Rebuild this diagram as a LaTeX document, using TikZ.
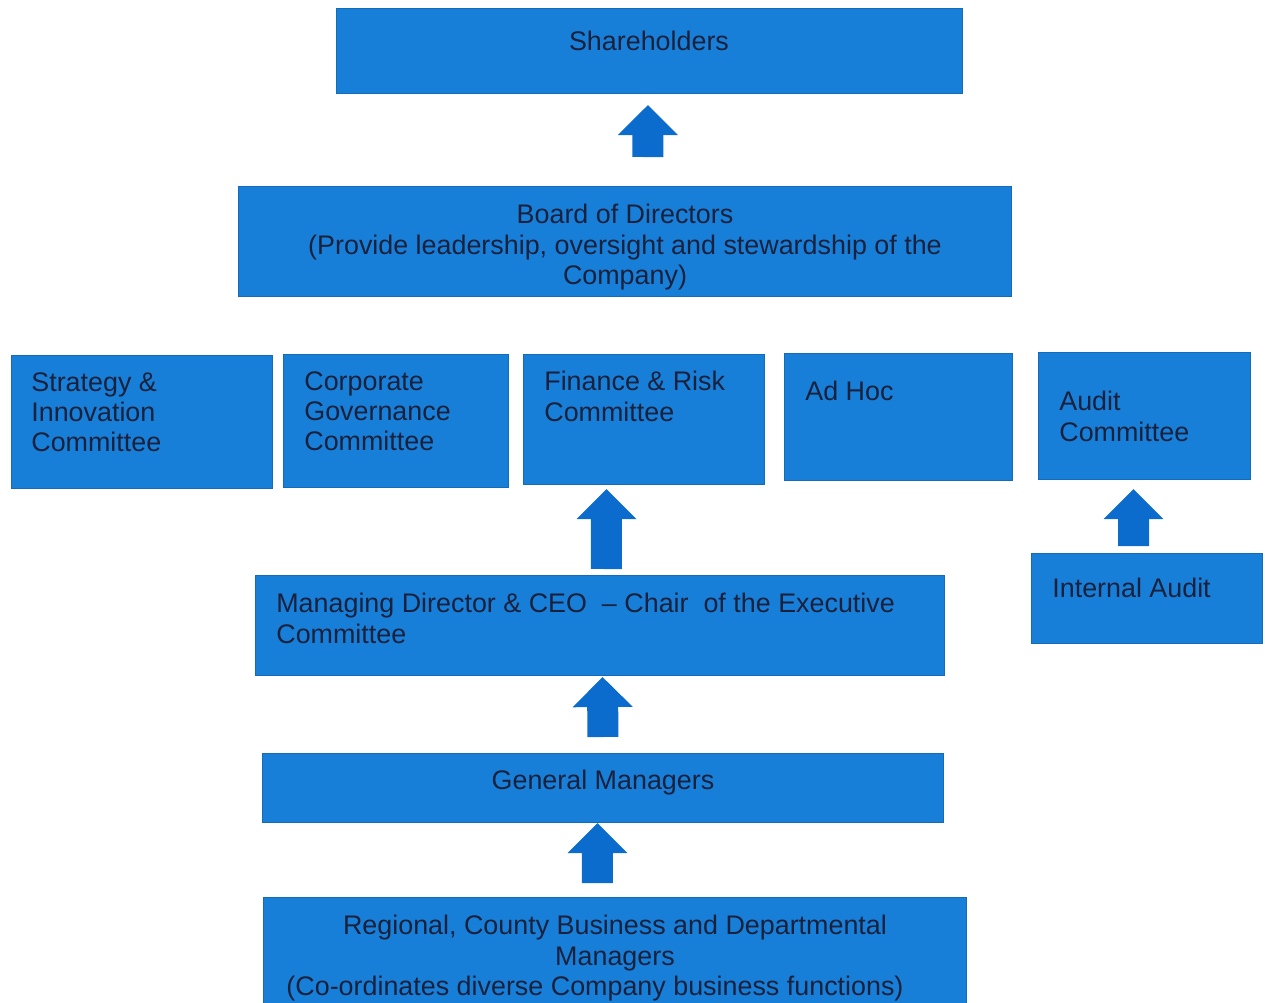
\documentclass[tikz,border=0pt]{standalone}
\usepackage{fontspec}
\setmainfont{Liberation Sans}
\usetikzlibrary{arrows.meta}

\definecolor{boxblue}{RGB}{24,127,217}
\definecolor{arrowblue}{RGB}{12,108,206}
\definecolor{inktext}{RGB}{26,33,60}

\tikzset{
  orgbox/.style={draw=boxblue!85!black, line width=0.6pt, fill=boxblue, anchor=north west, inner sep=0pt},
  orgtext/.style={text=inktext, inner sep=0pt, font=\fontsize{15.3}{17.3}\selectfont, align=left, anchor=north west},
  midtext/.style={orgtext, align=center, anchor=north},
  uparrow/.style={arrowblue, line width=0.62cm, -{Triangle[length=0.6cm, width=1.2cm, line width=0pt]}}
}

\begin{document}
\begin{tikzpicture}[x=0.02cm, y=-0.02cm]
	\useasboundingbox (0,0) rectangle (1265,1003);

	% boxes
	\node[orgbox, minimum width=12.52cm, minimum height=1.70cm] (sh) at (336,8) {};
	\node[orgbox, minimum width=15.46cm, minimum height=2.20cm] (bod) at (238,186) {};
	\node[orgbox, minimum width=5.22cm, minimum height=2.66cm] (strat) at (11,355) {};
	\node[orgbox, minimum width=4.50cm, minimum height=2.66cm] (corp) at (283,354) {};
	\node[orgbox, minimum width=4.82cm, minimum height=2.60cm] (fin) at (523,354) {};
	\node[orgbox, minimum width=4.56cm, minimum height=2.54cm] (adhoc) at (784,353) {};
	\node[orgbox, minimum width=4.24cm, minimum height=2.54cm] (aud) at (1038,352) {};
	\node[orgbox, minimum width=13.78cm, minimum height=2.00cm] (md) at (255,575) {};
	\node[orgbox, minimum width=4.62cm, minimum height=1.80cm] (ia) at (1031,553) {};
	\node[orgbox, minimum width=13.62cm, minimum height=1.38cm] (gm) at (262,753) {};
	\node[orgbox, minimum width=14.06cm, minimum height=2.12cm] (reg) at (263,897) {};

	% texts
	\node[midtext] (shT) at (649,31) {Shareholders};
	\node[midtext] (bodT) at (625,204) {Board of Directors\\(Provide leadership, oversight and stewardship of the\\Company)};
	\node[orgtext] (stratT) at (31,372) {Strategy \&\\Innovation\\Committee};
	\node[orgtext] (corpT) at (304,371) {Corporate\\Governance\\Committee};
	\node[orgtext] (finT) at (544,371) {Finance \& Risk\\Committee};
	\node[orgtext] (adhocT) at (805,381) {Ad Hoc};
	\node[orgtext] (audT) at (1059,391) {Audit\\Committee};
	\node[orgtext] (mdT) at (276,593) {Managing Director \& CEO\ \ -- Chair\ \ of the Executive\\Committee};
	\node[orgtext] (iaT) at (1052,578) {Internal Audit};
	\node[midtext] (gmT) at (603,770) {General Managers};
	\node[midtext] (regT) at (615,915) {Regional, County Business and Departmental\\Managers\\\hspace*{-0.8cm}(Co-ordinates diverse Company business functions)};

	% block arrows
	\draw[uparrow] ([xshift=0.46cm, yshift=0.58cm]bod.north) -- ([xshift=-0.03cm, yshift=-0.22cm]sh.south);
	\draw[uparrow] ([xshift=0.13cm, yshift=0.12cm]md.north) -- ([xshift=-0.75cm, yshift=-0.08cm]fin.south);
	\draw[uparrow] ([xshift=-0.27cm, yshift=0.14cm]ia.north) -- ([xshift=-0.22cm, yshift=-0.18cm]aud.south);
	\draw[uparrow] ([yshift=0.32cm]gm.north) -- ([xshift=0.05cm, yshift=-0.02cm]md.south);
	\draw[uparrow] ([xshift=-0.35cm, yshift=0.28cm]reg.north) -- ([xshift=-0.11cm]gm.south);
\end{tikzpicture}
\end{document}
